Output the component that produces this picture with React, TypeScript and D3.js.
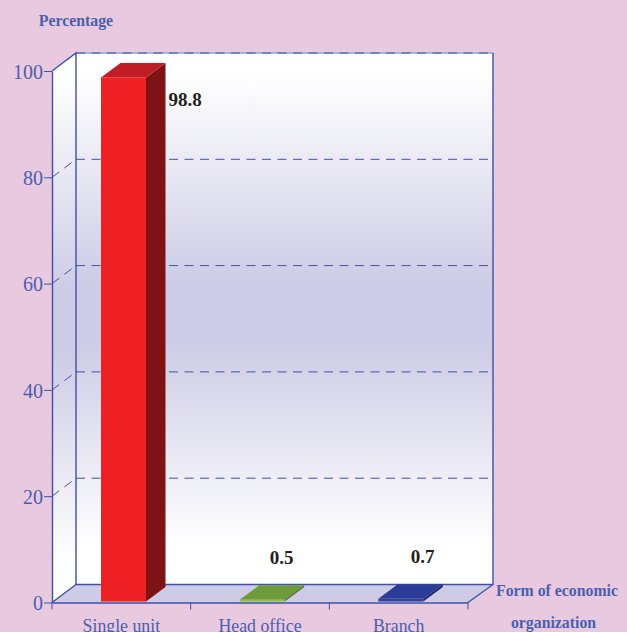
import React, { useEffect, useRef } from 'react';
import * as d3 from 'd3';

const categories = ['Single unit', 'Head office', 'Branch'];
const values = [98.8, 0.5, 0.7];
const valueLabels = ['98.8', '0.5', '0.7'];
const yTicks = [0, 20, 40, 60, 80, 100];

const frontColors = ['#ee2024', '#8cc63f', '#2e3f9e'];
const topColors = ['#be1e24', '#6f9a3c', '#2b3c98'];
const sideColors = ['#7d1315', '#4f6b2a', '#1f2c70'];

const BLUE = '#4a5fae';
const LINE_BLUE = '#3c52a6';

const App: React.FC = () => {
  const chartRef = useRef<SVGSVGElement | null>(null);

  useEffect(() => {
    const svg = d3.select(chartRef.current);
    svg.selectAll('*').remove();

    const x = d3.scaleBand<string>().domain(categories).range([52, 468]);
    const y = d3.scaleLinear().domain([0, 100]).range([602.5, 71]);

    // depth of the 3d box and of the bars
    const wallDx = 24;
    const wallDy = -18;
    const barDx = 19.5;
    const barDy = -14.5;
    const barWidth = 45;
    const barOffset = 49;

    const left = x.range()[0];
    const right = x.range()[1];

    const defs = svg.append('defs');
    const grad = defs.append('linearGradient')
      .attr('id', 'wall')
      .attr('x1', 0).attr('x2', 0).attr('y1', 0).attr('y2', 1);
    grad.append('stop').attr('offset', '4%').attr('stop-color', '#ffffff');
    grad.append('stop').attr('offset', '44%').attr('stop-color', '#cdcbe5');
    grad.append('stop').attr('offset', '54%').attr('stop-color', '#cdcbe5');
    grad.append('stop').attr('offset', '93%').attr('stop-color', '#ffffff');

    const poly = (pts: [number, number][]) => d3.line()(pts) + 'Z';

    svg.append('rect')
      .attr('width', 627).attr('height', 632)
      .attr('fill', '#e9c9e0');

    // back wall
    svg.append('rect')
      .attr('x', left + wallDx)
      .attr('y', y(100) + wallDy)
      .attr('width', right - left + 1)
      .attr('height', y(0) - y(100))
      .attr('fill', 'url(#wall)');

    // left wall
    svg.append('path')
      .attr('d', poly([
        [left, y(0)],
        [left, y(100)],
        [left + wallDx, y(100) + wallDy],
        [left + wallDx, y(0) + wallDy],
      ]))
      .attr('fill', 'url(#wall)');

    // floor
    svg.append('path')
      .attr('d', poly([
        [left, y(0)],
        [left + wallDx, y(0) + wallDy],
        [right + wallDx + 1, y(0) + wallDy],
        [right, y(0)],
      ]))
      .attr('fill', '#cdcbe5');

    // grid lines, back wall and left wall
    yTicks.filter(d => d > 0 && d < 100).forEach(d => {
      svg.append('line')
        .attr('x1', left + wallDx).attr('x2', right + wallDx + 1)
        .attr('y1', y(d) + wallDy).attr('y2', y(d) + wallDy)
        .attr('stroke', LINE_BLUE).attr('stroke-width', 1)
        .attr('stroke-dasharray', '9 6.5');
      svg.append('line')
        .attr('x1', left).attr('x2', left + wallDx)
        .attr('y1', y(d)).attr('y2', y(d) + wallDy)
        .attr('stroke', LINE_BLUE).attr('stroke-width', 1)
        .attr('stroke-dasharray', '9 6.5');
    });

    // top edge of the box
    svg.append('line')
      .attr('x1', left + wallDx).attr('x2', right + wallDx + 1)
      .attr('y1', y(100) + wallDy).attr('y2', y(100) + wallDy)
      .attr('stroke', '#93a2d0').attr('stroke-width', 1.5);
    svg.append('line')
      .attr('x1', left + wallDx).attr('x2', right + wallDx + 1)
      .attr('y1', y(100) + wallDy).attr('y2', y(100) + wallDy)
      .attr('stroke', '#5f74bb').attr('stroke-width', 1.5)
      .attr('stroke-dasharray', '9 6.5');

    // box edges
    const edges = svg.append('g')
      .attr('fill', 'none')
      .attr('stroke', LINE_BLUE)
      .attr('stroke-width', 1.4);
    edges.append('path').attr('d', d3.line()([
      [left, y(100)],
      [left + wallDx, y(100) + wallDy],
      [left + wallDx, y(0) + wallDy],
      [left, y(0)],
    ]));
    edges.append('path').attr('d', d3.line()([
      [right + wallDx + 1, y(100) + wallDy],
      [right + wallDx + 1, y(0) + wallDy],
      [right, y(0)],
    ]));
    edges.append('line')
      .attr('x1', left + wallDx).attr('x2', right + wallDx + 1)
      .attr('y1', y(0) + wallDy).attr('y2', y(0) + wallDy);

    // bars
    categories.forEach((c, i) => {
      const x0 = (x(c) as number) + barOffset;
      const x1 = x0 + barWidth;
      const yTop = y(values[i]);
      const yBase = y(0) - 1;
      const g = svg.append('g');
      g.append('path')
        .attr('d', poly([
          [x1, yBase],
          [x1, yTop],
          [x1 + barDx, yTop + barDy],
          [x1 + barDx, yBase + barDy],
        ]))
        .attr('fill', sideColors[i]);
      g.append('path')
        .attr('d', poly([
          [x0, yTop],
          [x0 + barDx, yTop + barDy],
          [x1 + barDx, yTop + barDy],
          [x1, yTop],
        ]))
        .attr('fill', topColors[i]);
      g.append('rect')
        .attr('x', x0).attr('y', yTop)
        .attr('width', barWidth).attr('height', yBase - yTop)
        .attr('fill', frontColors[i]);
    });

    // axes
    const yAxis = svg.append('g')
      .attr('transform', `translate(${left},0)`)
      .call(d3.axisLeft(y).tickValues(yTicks).tickSize(8).tickPadding(1).tickSizeOuter(0));
    yAxis.selectAll('path').attr('stroke', LINE_BLUE).attr('stroke-width', 1.4);
    yAxis.selectAll('line').attr('stroke', LINE_BLUE).attr('stroke-width', 1);
    yAxis.selectAll('text')
      .attr('fill', BLUE)
      .attr('dy', '0.36em')
      .style('font-family', '"Liberation Serif"')
      .style('font-size', '20px');

    const xAxis = svg.append('g')
      .attr('transform', `translate(0,${y(0)})`)
      .call(d3.axisBottom(x).tickSize(0).tickPadding(17));
    xAxis.selectAll('path').attr('stroke', LINE_BLUE).attr('stroke-width', 1.4);
    xAxis.selectAll('text')
      .attr('fill', BLUE)
      .style('font-family', '"Liberation Serif"')
      .style('font-size', '17.8px');
    const xTickPositions = [...categories.map(c => x(c) as number), right];
    xTickPositions.forEach(p => {
      svg.append('line')
        .attr('x1', p).attr('x2', p)
        .attr('y1', y(0)).attr('y2', y(0) + 7)
        .attr('stroke', LINE_BLUE).attr('stroke-width', 1);
    });

    // value labels
    const labelPos: [number, number][] = [[185, 106], [281.5, 564], [422.5, 563]];
    valueLabels.forEach((t, i) => {
      svg.append('text')
        .attr('x', labelPos[i][0]).attr('y', labelPos[i][1])
        .attr('text-anchor', 'middle')
        .attr('fill', '#231f20')
        .style('font-family', '"Liberation Serif"')
        .style('font-size', '19px')
        .style('font-weight', 'bold')
        .text(t);
    });

    // axis titles
    const title = (t: string, tx: number, ty: number) =>
      svg.append('text')
        .attr('x', tx).attr('y', ty)
        .attr('text-anchor', 'middle')
        .attr('fill', BLUE)
        .style('font-family', '"Liberation Serif"')
        .style('font-size', '15.8px')
        .style('font-weight', 'bold')
        .text(t);
    title('Percentage', 76, 26);
    title('Form of economic', 557, 596);
    title('organization', 553.5, 628);
  }, []);

  return (
    <svg
      ref={chartRef}
      width={627}
      height={632}
      style={{ position: 'fixed', top: 0, left: 0, display: 'block' }}
    />
  );
};

export default App;
